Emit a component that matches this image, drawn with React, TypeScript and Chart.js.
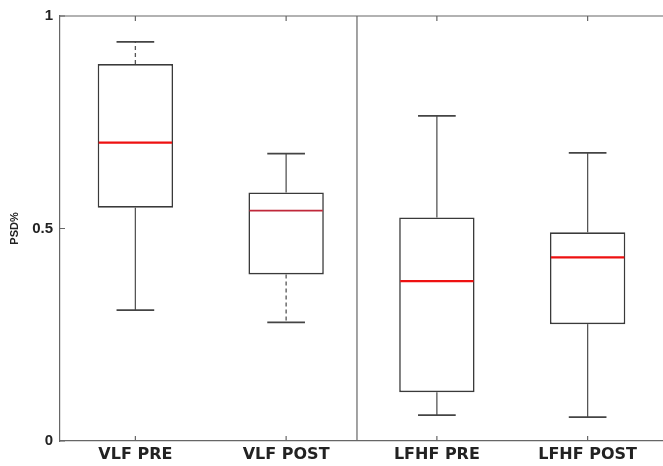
import React, { useEffect, useRef } from "react";
import { Chart, registerables } from "chart.js";

Chart.register(...registerables);

const categories = ["VLF PRE", "VLF POST", "LFHF PRE", "LFHF POST"];
const whiskerLow = [0.308, 0.279, 0.061, 0.056];
const q1 = [0.549, 0.392, 0.115, 0.275];
const median = [0.702, 0.542, 0.376, 0.432];
const q3 = [0.887, 0.585, 0.526, 0.491];
const whiskerHigh = [0.939, 0.676, 0.765, 0.678];
const upperDashed = [true, false, false, false];
const lowerDashed = [false, true, false, false];
const yTicks = [0, 0.5, 1];
const yLabels = ["0", "0.5", "1"];
const dividerAt = 1.47;

const boxPlugin = {
  id: "boxExtras",
  beforeDatasetsDraw(chart: any) {
    const ctx = chart.ctx;
    const y = chart.scales.y;
    const meta = chart.getDatasetMeta(0);
    ctx.save();
    meta.data.forEach((bar: any, i: number) => {
      const cx = bar.x;
      const cap = bar.width / 4;
      const draw = (from: number, to: number, dashed: boolean) => {
        ctx.beginPath();
        ctx.strokeStyle = "#555";
        ctx.lineWidth = 1.3;
        ctx.setLineDash(dashed ? [4, 3] : []);
        ctx.moveTo(cx, y.getPixelForValue(from));
        ctx.lineTo(cx, y.getPixelForValue(to));
        ctx.stroke();
        ctx.setLineDash([]);
        ctx.beginPath();
        ctx.lineWidth = 1.8;
        ctx.strokeStyle = "#444";
        ctx.moveTo(cx - cap, y.getPixelForValue(to));
        ctx.lineTo(cx + cap, y.getPixelForValue(to));
        ctx.stroke();
      };
      draw(q3[i], whiskerHigh[i], upperDashed[i]);
      draw(q1[i], whiskerLow[i], lowerDashed[i]);
    });
    ctx.restore();
  },
  afterDatasetsDraw(chart: any) {
    const ctx = chart.ctx;
    const y = chart.scales.y;
    const meta = chart.getDatasetMeta(0);
    ctx.save();
    meta.data.forEach((bar: any, i: number) => {
      const half = bar.width / 2;
      ctx.beginPath();
      ctx.strokeStyle = i === 1 ? "#c0283a" : "#ee1111";
      ctx.lineWidth = i === 1 ? 1.6 : 2.2;
      const py = y.getPixelForValue(median[i]);
      ctx.moveTo(bar.x - half + 1, py);
      ctx.lineTo(bar.x + half - 1, py);
      ctx.stroke();
    });
    ctx.restore();
  },
  afterDraw(chart: any) {
    const ctx = chart.ctx;
    const { left, right, top, bottom } = chart.chartArea;
    const x = chart.scales.x;
    const y = chart.scales.y;
    ctx.save();
    ctx.strokeStyle = "#666";
    ctx.lineWidth = 1.2;
    ctx.beginPath();
    ctx.moveTo(left, top);
    ctx.lineTo(right, top);
    const dx = x.getPixelForValue(dividerAt);
    ctx.moveTo(dx, top);
    ctx.lineTo(dx, bottom);
    ctx.stroke();
    ctx.beginPath();
    categories.forEach((_, i) => {
      const px = x.getPixelForTick(i);
      ctx.moveTo(px, bottom);
      ctx.lineTo(px, bottom - 5);
      ctx.moveTo(px, top);
      ctx.lineTo(px, top + 5);
    });
    yTicks.forEach((v) => {
      const py = y.getPixelForValue(v);
      ctx.moveTo(left, py);
      ctx.lineTo(left + 5, py);
    });
    ctx.stroke();
    ctx.restore();
  },
};

export default function App() {
  const ref = useRef<HTMLCanvasElement>(null);
  useEffect(() => {
    const chart = new Chart(ref.current as HTMLCanvasElement, {
      type: "bar",
      data: {
        labels: categories,
        datasets: [
          {
            data: q1.map((v, i) => [v, q3[i]]) as any,
            backgroundColor: "#ffffff",
            borderColor: "#3a3a3a",
            borderWidth: 1.6,
            borderSkipped: false,
            categoryPercentage: 1,
            barPercentage: 0.5,
          },
        ],
      },
      options: {
        responsive: false,
        animation: false,
        layout: { padding: { top: 15, right: 0, left: 0, bottom: 0 } },
        plugins: { legend: { display: false }, tooltip: { enabled: false } },
        scales: {
          x: {
            grid: { display: false, drawTicks: false },
            border: { display: true, color: "#666", width: 1.2 },
            ticks: {
              padding: 4,
              color: "#222",
              font: { family: "DejaVu Sans", weight: "bold", size: 16 },
              maxRotation: 0,
            },
            afterFit: (s: any) => {
              s.height = 25;
            },
          },
          y: {
            min: 0,
            max: 1,
            grid: { display: false, drawTicks: false },
            border: { display: true, color: "#666", width: 1.2 },
            afterBuildTicks: (s: any) => {
              s.ticks = yTicks.map((v) => ({ value: v }));
            },
            ticks: {
              padding: 7,
              color: "#222",
              font: { family: "Liberation Sans", weight: "bold", size: 15 },
              callback: (v: any) => yLabels[yTicks.indexOf(Number(v))] ?? "",
            },
            title: {
              display: true,
              text: "PSD%",
              color: "#222",
              font: { family: "Liberation Sans", weight: "bold", size: 11 },
              padding: { top: 8, bottom: 0 },
            },
            afterFit: (s: any) => {
              s.width = 60;
            },
          },
        },
      },
      plugins: [boxPlugin],
    } as any);
    return () => chart.destroy();
  }, []);
  return (
    <div style={{ position: "fixed", left: 0, top: 0, width: 663, height: 466, background: "#fff" }}>
      <canvas ref={ref} width={663} height={466} />
    </div>
  );
}
